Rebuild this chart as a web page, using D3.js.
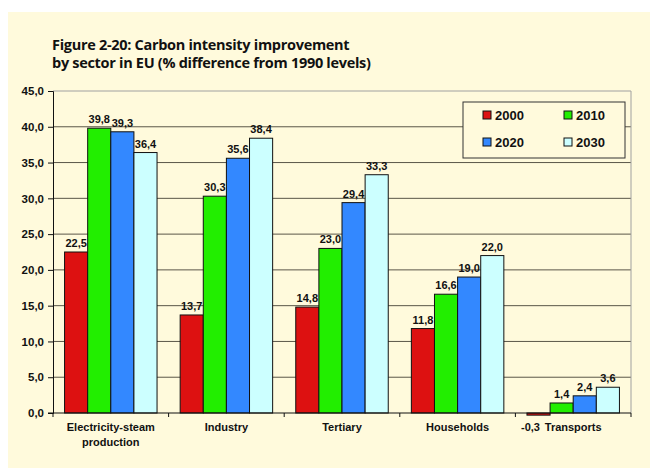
<!DOCTYPE html>
<html>
<head>
<meta charset="utf-8">
<script src="https://cdn.jsdelivr.net/npm/d3@7"></script>
<style>
body { margin: 0; background: #fff; }
text { font-family: "Liberation Sans", Arial, sans-serif; font-weight: bold; fill: #111; }
</style>
</head>
<body>
<script>
var width = 650,
    height = 468;

// data
var sectors = ["Electricity-steam production", "Industry", "Tertiary", "Households", "Transports"];
var years = ["2000", "2010", "2020", "2030"];
var v2000 = [22.5, 13.7, 14.8, 11.8, -0.3];
var v2010 = [39.8, 30.3, 23.0, 16.6, 1.4];
var v2020 = [39.3, 35.6, 29.4, 19.0, 2.4];
var v2030 = [36.4, 38.4, 33.3, 22.0, 3.6];
var yTicks = [0, 5, 10, 15, 20, 25, 30, 35, 40, 45];
var colors = ["#dd1111", "#22ee00", "#3388ff", "#ccffff"];

var series = [v2000, v2010, v2020, v2030];

var margin = {left: 53, right: 19, top: 91, bottom: 55};

var svg = d3.select("body").append("svg")
    .attr("width", width)
    .attr("height", height);

// cream background
svg.append("rect")
    .attr("x", 8).attr("y", 12)
    .attr("width", width - 8).attr("height", height - 12)
    .attr("fill", "#fffadc");

// title, two lines
var titleLines = ["Figure 2-20: Carbon intensity improvement", "by sector in EU (% difference from 1990 levels)"];
svg.selectAll("text.title")
  .data(titleLines)
  .enter().append("text")
    .attr("class", "title")
    .attr("x", 52)
    .attr("y", function(d, i) { return 50 + i * 18; })
    .style("font-family", "'Open Sans', 'Noto Sans', sans-serif")
    .style("font-size", "14.5px")
    .style("letter-spacing", "-0.3px")
    .text(function(d) { return d; });

var x0 = d3.scaleBand()
    .domain(sectors)
    .range([margin.left, width - margin.right]);

var x1 = d3.scaleBand()
    .domain(years)
    .range([x0.bandwidth() * 0.1, x0.bandwidth() * 0.9]);

var y = d3.scaleLinear()
    .domain([0, 45])
    .range([height - margin.bottom, margin.top]);

var fmt = function(v) { return d3.format(".1f")(v).replace(".", ",").replace("−", "-"); };

// gridlines
svg.append("g")
  .selectAll("line")
  .data(yTicks.filter(function(d) { return d > 0; }))
  .enter().append("line")
    .attr("x1", margin.left)
    .attr("x2", width - margin.right)
    .attr("y1", function(d) { return y(d); })
    .attr("y2", function(d) { return y(d); })
    .attr("stroke", function(d) { return d === 45 ? "#a0a0a0" : "#5a5648"; })
    .attr("stroke-width", 1);

// right border
svg.append("line")
    .attr("x1", width - margin.right).attr("x2", width - margin.right)
    .attr("y1", y(45)).attr("y2", y(0))
    .attr("stroke", "#a0a0a0");

// bars
var groups = svg.append("g")
  .selectAll("g")
  .data(sectors)
  .enter().append("g")
    .attr("transform", function(d) { return "translate(" + x0(d) + ",0)"; });

function rows(d, i) {
    return years.map(function(yr, j) { return {year: yr, value: series[j][i], j: j}; });
}

groups.selectAll("rect")
  .data(rows)
  .enter().append("rect")
    .attr("x", function(d) { return x1(d.year); })
    .attr("width", x1.bandwidth())
    .attr("y", function(d) { return y(Math.max(0, d.value)); })
    .attr("height", function(d) { return Math.abs(y(d.value) - y(0)); })
    .attr("fill", function(d) { return colors[d.j]; })
    .attr("stroke", "#111")
    .attr("stroke-width", 1);

groups.selectAll("text.val")
  .data(rows)
  .enter().append("text")
    .attr("class", "val")
    .attr("x", function(d) { return x1(d.year) + x1.bandwidth() / 2 - (d.value < 0 ? 8 : 0); })
    .attr("y", function(d) { return d.value < 0 ? y(d.value) + 16 : y(d.value) - 5; })
    .attr("text-anchor", "middle")
    .style("font-size", "11px")
    .text(function(d) { return fmt(d.value); });

// y axis
var yAxis = svg.append("g")
    .attr("transform", "translate(" + margin.left + ",0)")
    .call(d3.axisLeft(y).tickValues(yTicks).tickSize(5).tickFormat(fmt));
yAxis.select(".domain").attr("stroke", "#111");
yAxis.selectAll(".tick line").attr("stroke", "#111");
yAxis.selectAll(".tick text")
    .attr("x", -9)
    .style("font-family", "'Liberation Sans', Arial, sans-serif")
    .style("font-size", "11.5px")
    .style("font-weight", "bold")
    .attr("fill", "#111");

// x axis
var xAxis = svg.append("g")
    .attr("transform", "translate(0," + y(0) + ")");
xAxis.append("line")
    .attr("x1", margin.left - 5).attr("x2", width - margin.right)
    .attr("stroke", "#111");
xAxis.selectAll("line.tk")
  .data(sectors.concat(["end"]))
  .enter().append("line")
    .attr("class", "tk")
    .attr("x1", function(d, i) { return i < sectors.length ? x0(d) : x0.range()[1]; })
    .attr("x2", function(d, i) { return i < sectors.length ? x0(d) : x0.range()[1]; })
    .attr("y1", 0).attr("y2", 4)
    .attr("stroke", "#111");

var lbl = xAxis.selectAll("text.cat")
  .data(sectors)
  .enter().append("text")
    .attr("class", "cat")
    .attr("x", function(d) { return x0(d) + x0.bandwidth() / 2; })
    .attr("y", 18)
    .attr("text-anchor", "middle")
    .style("font-size", "11px");
lbl.each(function(d) {
    var t = d3.select(this);
    var parts = d === "Electricity-steam production" ? ["Electricity-steam", "production"] : [d];
    parts.forEach(function(p, k) {
        t.append("tspan")
            .attr("x", x0(d) + x0.bandwidth() / 2)
            .attr("dy", k === 0 ? 0 : 15)
            .text(p);
    });
});

// legend
var legend = svg.append("g").attr("transform", "translate(463,102)");
legend.append("rect")
    .attr("width", 162).attr("height", 56)
    .attr("fill", "#fffadc")
    .attr("stroke", "#333");
var li = legend.selectAll("g")
  .data(years)
  .enter().append("g")
    .attr("transform", function(d, i) { return "translate(" + (i % 2 === 0 ? 20 : 101) + "," + (i < 2 ? 13 : 40) + ")"; });
li.append("rect")
    .attr("y", -4)
    .attr("width", 8).attr("height", 8)
    .attr("fill", function(d, i) { return colors[i]; })
    .attr("stroke", "#111");
li.append("text")
    .attr("x", 12)
    .attr("y", 5)
    .style("font-size", "13px")
    .text(function(d) { return d; });
</script>
</body>
</html>
